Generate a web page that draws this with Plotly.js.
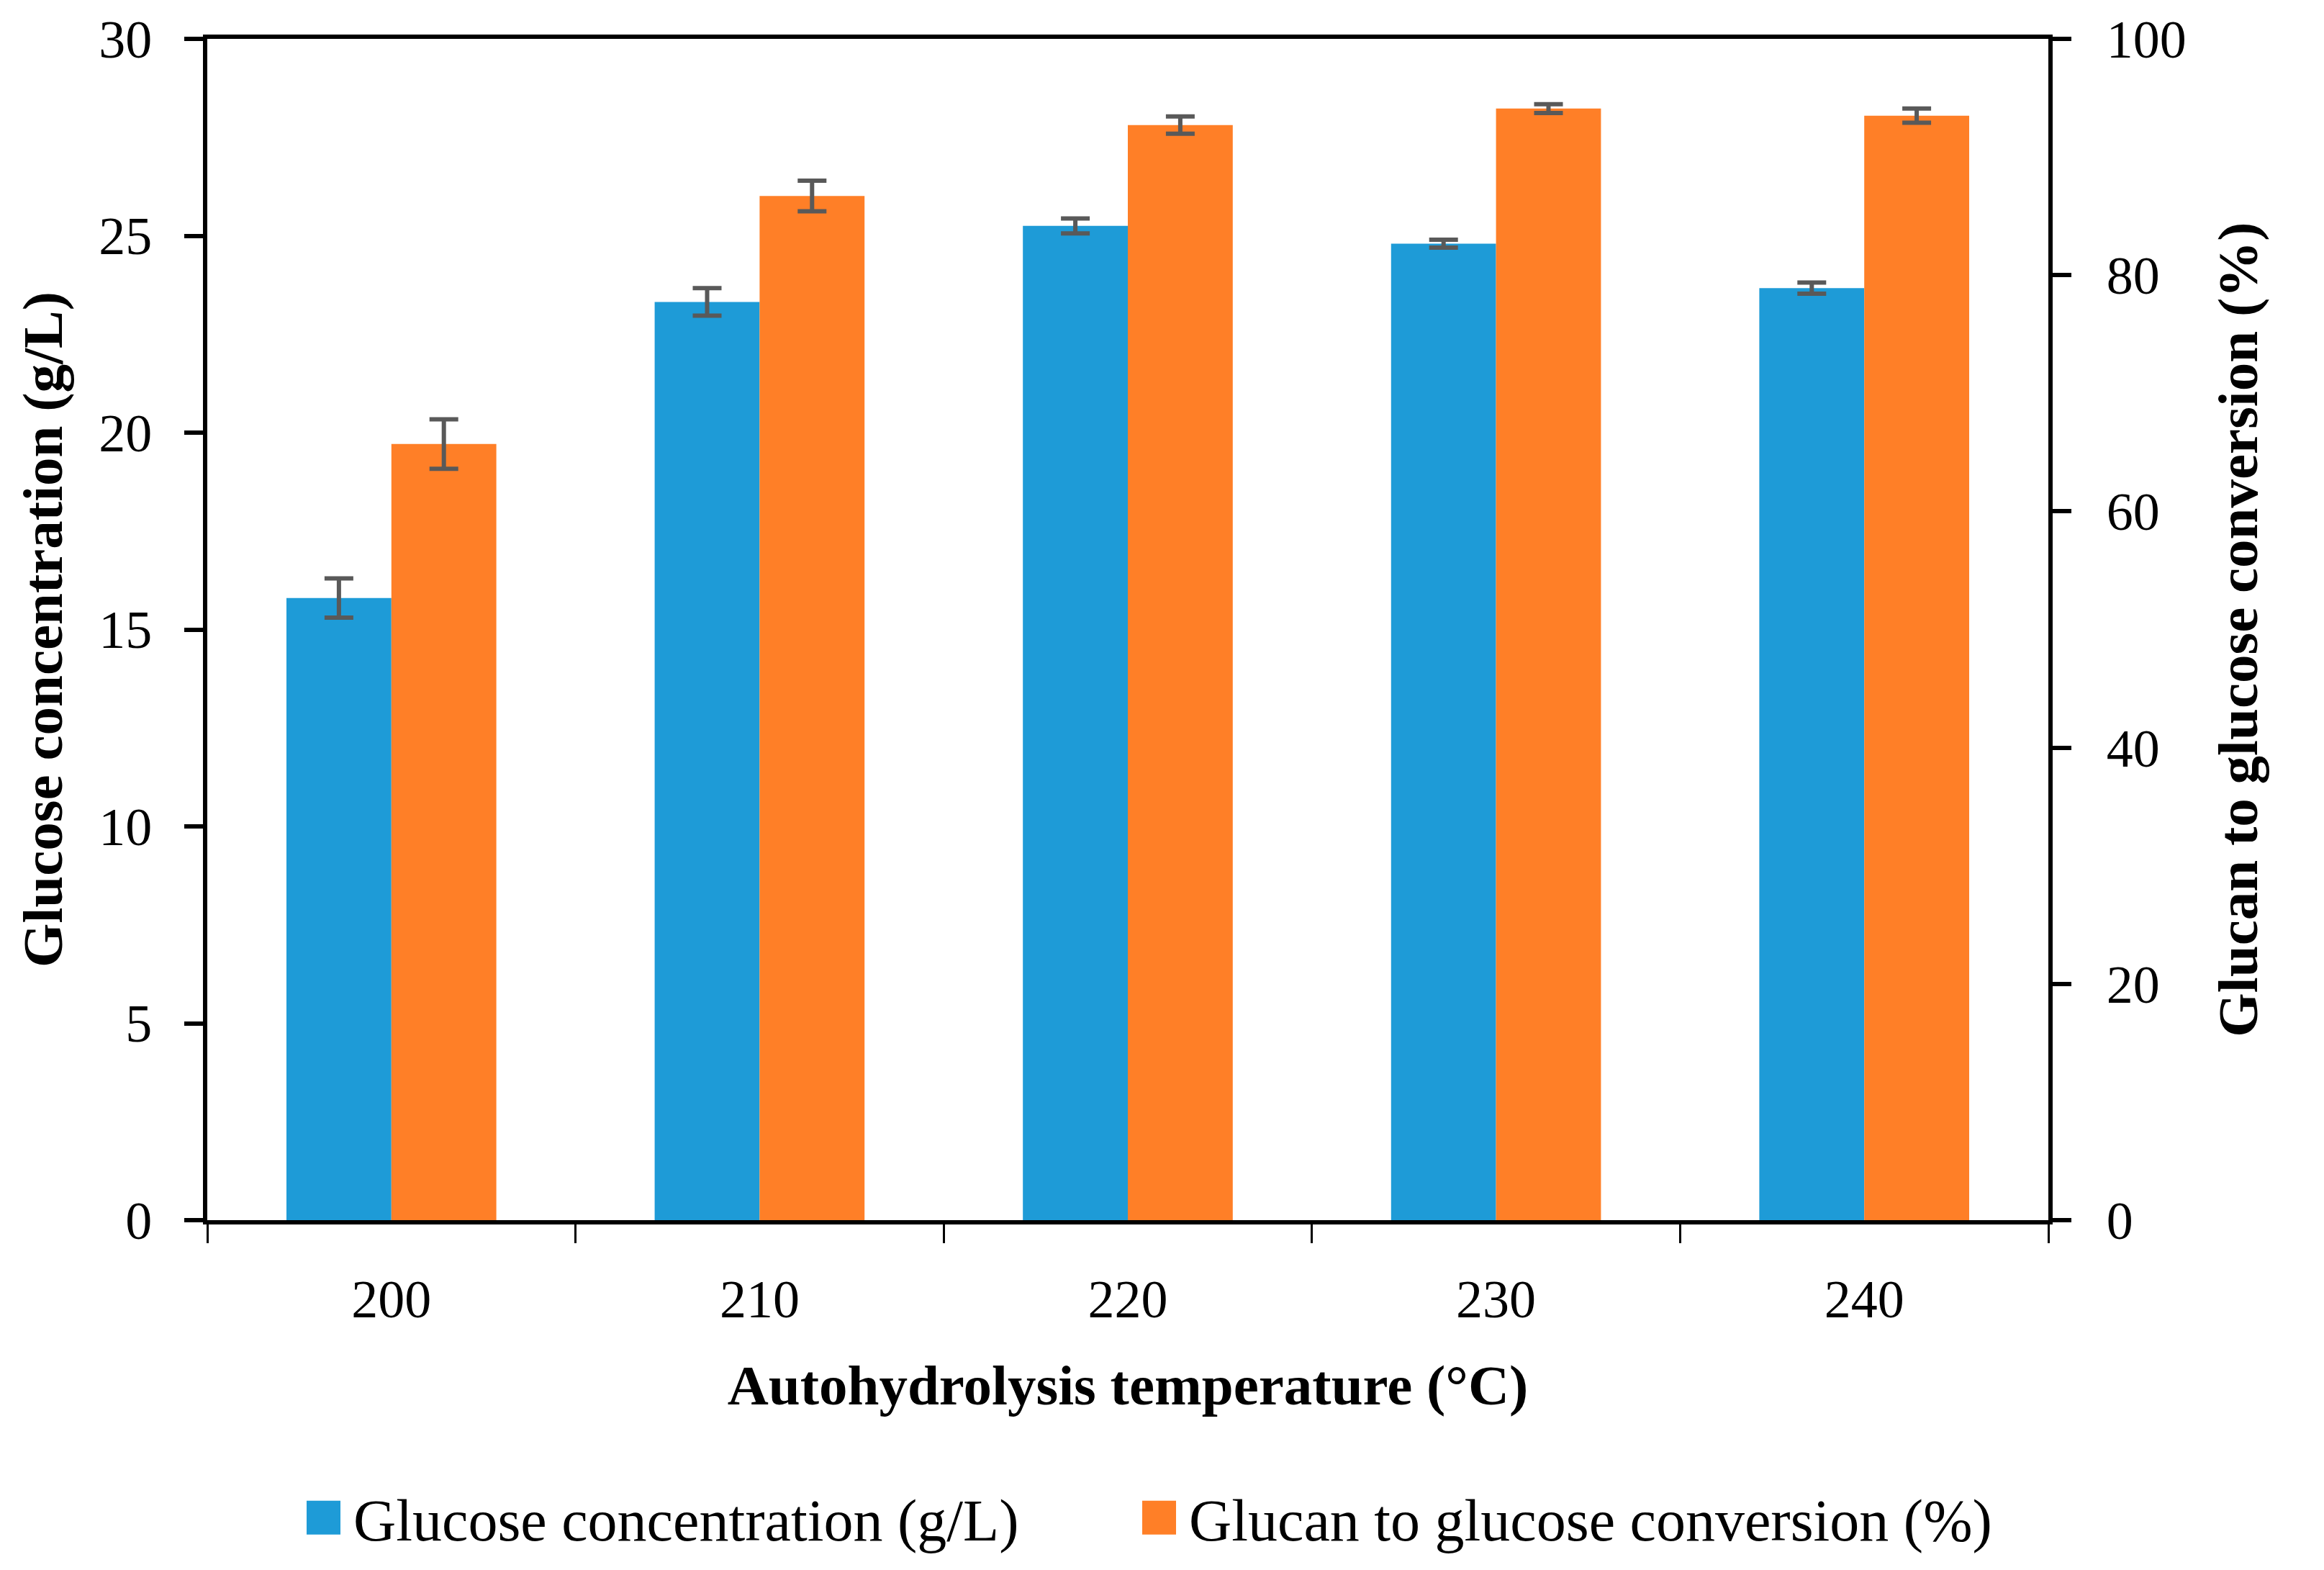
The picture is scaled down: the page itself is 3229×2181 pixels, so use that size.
<!DOCTYPE html>
<html>
<head>
<meta charset="utf-8">
<script src="https://cdn.plot.ly/plotly-3.0.1.min.js"></script>
<style>html,body{margin:0;padding:0;background:#fff;}</style>
</head>
<body>
<div id="chart" style="width:3229px;height:2181px;"></div>
<script>
// Data
var temperatures = ['200', '210', '220', '230', '240'];
var glucoseConc = [15.8, 23.32, 25.25, 24.80, 23.67];
var glucoseConcErr = [0.5, 0.35, 0.19, 0.10, 0.14];
var glucanConv = [65.7, 86.7, 92.7, 94.1, 93.5];
var glucanConvErr = [2.1, 1.3, 0.73, 0.37, 0.6];
var seriesNames = ['Glucose concentration (g/L)', 'Glucan to glucose conversion (%)'];
var xTitle = 'Autohydrolysis temperature (°C)';
var yTitle = 'Glucose concentration (g/L)';
var y2Title = 'Glucan to glucose conversion (%)';

var FONT = 'Liberation Serif, Times New Roman, serif';
var errStyle = {color: '#595959', thickness: 6, width: 20};

var traces = [
  {
    type: 'bar', name: seriesNames[0], x: temperatures, y: glucoseConc,
    yaxis: 'y', marker: {color: '#1E9BD7'},
    width: 0.285, offset: -0.285,
    error_y: Object.assign({type: 'data', array: glucoseConcErr, visible: true}, errStyle)
  },
  {
    type: 'bar', name: seriesNames[1], x: temperatures, y: glucanConv,
    yaxis: 'y2', marker: {color: '#FF7F27'},
    width: 0.285, offset: 0,
    error_y: Object.assign({type: 'data', array: glucanConvErr, visible: true}, errStyle)
  }
];

var layout = {
  width: 3229, height: 2181,
  margin: {l: 288, r: 383, t: 54, b: 479, pad: 0},
  paper_bgcolor: '#ffffff', plot_bgcolor: '#ffffff',
  font: {family: FONT, size: 74, color: '#000'},
  showlegend: true,
  legend: {
    orientation: 'h', x: 0.052, xanchor: 'left', y: -0.252, yanchor: 'middle',
    font: {family: FONT, size: 82, color: '#000'},
    itemwidth: 60, entrywidth: 1086, entrywidthmode: 'pixels',
    bgcolor: 'rgba(0,0,0,0)', traceorder: 'normal'
  },
  xaxis: {
    type: 'category', tickson: 'boundaries', ticks: 'outside', ticklen: 26, tickwidth: 3,
    tickcolor: '#000', showline: true, linewidth: 6, linecolor: '#000', mirror: true,
    showgrid: false, zeroline: false, ticklabelstandoff: 40,
    tickfont: {family: FONT, size: 74},
    title: {text: xTitle, font: {family: FONT, size: 79, weight: 'bold'}, standoff: 53}
  },
  yaxis: {
    range: [0, 30], dtick: 5, tick0: 0, ticks: 'outside', ticklen: 26, tickwidth: 6,
    tickcolor: '#000', showline: true, linewidth: 6, linecolor: '#000',
    showgrid: false, zeroline: false, ticklabelstandoff: 30,
    tickfont: {family: FONT, size: 74},
    title: {text: yTitle, font: {family: FONT, size: 79, weight: 'bold'}, standoff: 27}
  },
  yaxis2: {
    overlaying: 'y', side: 'right', range: [0, 100], dtick: 20, tick0: 0,
    ticks: 'outside', ticklen: 26, tickwidth: 6, tickcolor: '#000',
    showline: true, linewidth: 6, linecolor: '#000',
    showgrid: false, zeroline: false, ticklabelstandoff: 34,
    tickfont: {family: FONT, size: 74},
    title: {text: y2Title, font: {family: FONT, size: 79, weight: 'bold'}, standoff: 46}
  },
  bargap: 0.43, bargroupgap: 0
};

Plotly.newPlot('chart', traces, layout, {displayModeBar: false, staticPlot: true}).then(function (gd) {
  // enlarge legend swatches to match the reference's large square keys
  var paths = gd.querySelectorAll('.legend .legendpoints path');
  paths.forEach(function (p) {
    p.setAttribute('d', 'M23.5,23.5H-23.5V-23.5H23.5Z');
    p.setAttribute('transform', 'translate(28.5,0)');
  });
  // let the last legend entry's text extend beyond the fixed entry width
  gd.querySelectorAll('.legend [clip-path]').forEach(function (el) {
    el.removeAttribute('clip-path');
  });
});
</script>
</body>
</html>
